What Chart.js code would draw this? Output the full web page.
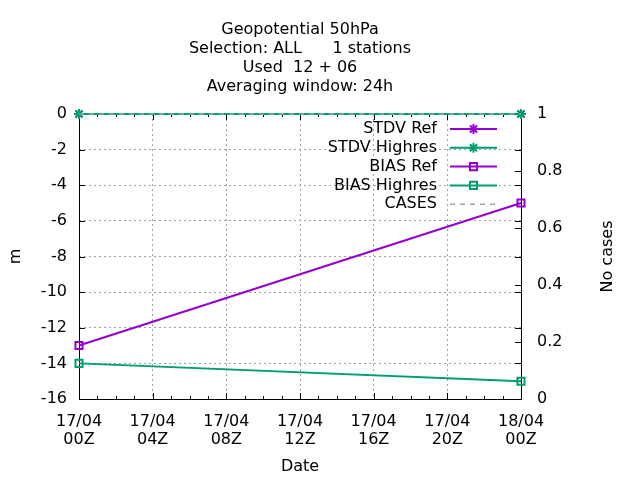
<!DOCTYPE html>
<html>
<head>
<meta charset="utf-8">
<script src="https://cdn.jsdelivr.net/npm/chart.js@4"></script>
<style>
  html, body { margin: 0; padding: 0; background: #fff; }
  #wrap { width: 640px; height: 480px; }
</style>
</head>
<body>
<div id="wrap"><canvas id="chart" width="640" height="480"></canvas></div>
<script>
'use strict';

// data
const titleLines = ['Geopotential 50hPa', 'Selection: ALL      1 stations', 'Used  12 + 06', 'Averaging window: 24h'];
const hours = [0, 24];
const xTickValues = [0, 4, 8, 12, 16, 20, 24];
const xTickLabels = [
  ['17/04', '00Z'], ['17/04', '04Z'], ['17/04', '08Z'], ['17/04', '12Z'],
  ['17/04', '16Z'], ['17/04', '20Z'], ['18/04', '00Z'],
];
const seriesNames = ['STDV Ref', 'STDV Highres', 'BIAS Ref', 'BIAS Highres', 'CASES'];
const stdvRef = [0, 0];
const stdvHighres = [0, 0];
const biasRef = [-13, -5];
const biasHighres = [-14, -15];
const cases = [1, 1];

const purple = '#9400d3';
const green = '#009e73';
const grey = '#a0a0a0';
const FONT = 'DejaVu Sans';
const SIZE = 16;

const toPoints = (values) => values.map((v, i) => ({ x: hours[i], y: v }));

const lineSet = (label, values, color, pointStyle, order) => ({
  label,
  data: toPoints(values),
  borderColor: color,
  backgroundColor: 'rgba(0,0,0,0)',
  borderWidth: 2,
  pointStyle,
  pointRadius: 5,
  pointBorderWidth: 2,
  pointBorderColor: color,
  pointBackgroundColor: 'rgba(0,0,0,0)',
  yAxisID: 'y',
  clip: false,
  order,
});

const datasets = [
  lineSet(seriesNames[0], stdvRef, purple, 'star', 5),
  lineSet(seriesNames[1], stdvHighres, green, 'star', 4),
  lineSet(seriesNames[2], biasRef, purple, 'rect', 3),
  lineSet(seriesNames[3], biasHighres, green, 'rect', 2),
  {
    label: seriesNames[4],
    data: toPoints(cases),
    borderColor: grey,
    borderWidth: 1.5,
    borderDash: [5, 5],
    pointRadius: 0,
    yAxisID: 'y1',
    clip: false,
    order: 1,
  },
];

// frame + inward tick marks, gnuplot style (under the data)
const framePlugin = {
  id: 'frame',
  beforeDatasetsDraw(chart) {
    const { ctx, chartArea: a, scales } = chart;
    ctx.save();
    ctx.strokeStyle = '#000';
    ctx.lineWidth = 1;
    ctx.beginPath();
    for (let h = 0; h <= 24; h++) {
      const x = Math.round(scales.x.getPixelForValue(h)) + 0.5;
      const len = h % 4 === 0 ? 6 : 3;
      ctx.moveTo(x, a.bottom); ctx.lineTo(x, a.bottom - len);
      ctx.moveTo(x, a.top); ctx.lineTo(x, a.top + len);
    }
    scales.y.ticks.forEach((t) => {
      const y = Math.round(scales.y.getPixelForValue(t.value)) + 0.5;
      ctx.moveTo(a.left, y); ctx.lineTo(a.left + 6, y);
      ctx.moveTo(a.right, y); ctx.lineTo(a.right - 6, y);
    });
    scales.y1.ticks.forEach((t) => {
      const y = Math.round(scales.y1.getPixelForValue(t.value)) + 0.5;
      ctx.moveTo(a.right, y); ctx.lineTo(a.right - 6, y);
    });
    ctx.stroke();
    ctx.strokeRect(Math.round(a.left) + 0.5, Math.round(a.top) + 0.5,
      Math.round(a.right - a.left), Math.round(a.bottom - a.top));
    ctx.restore();
  },
};

// key in the upper right corner of the plot, and the right axis title read upwards
const keyPlugin = {
  id: 'key',
  afterDraw(chart) {
    const { ctx, chartArea: a } = chart;
    const textRight = a.right - 84;
    const sampleLeft = a.right - 71;
    const sampleRight = a.right - 24;
    const mid = (sampleLeft + sampleRight) / 2;
    ctx.save();
    ctx.font = `${SIZE}px "${FONT}"`;
    ctx.textAlign = 'right';
    ctx.textBaseline = 'middle';
    chart.data.datasets.forEach((ds, i) => {
      const y = a.top + 15 + i * 18.8;
      ctx.fillStyle = '#000';
      ctx.fillText(ds.label, textRight, y);
      ctx.strokeStyle = ds.borderColor;
      ctx.lineWidth = ds.borderWidth;
      ctx.setLineDash(ds.borderDash || []);
      ctx.beginPath();
      ctx.moveTo(sampleLeft, y);
      ctx.lineTo(sampleRight, y);
      ctx.stroke();
      ctx.setLineDash([]);
      if (ds.pointRadius) {
        ctx.fillStyle = 'rgba(0,0,0,0)';
        ctx.lineWidth = ds.pointBorderWidth;
        Chart.helpers.drawPoint(ctx, {
          pointStyle: ds.pointStyle,
          rotation: 0,
          radius: ds.pointRadius,
          borderWidth: ds.pointBorderWidth,
        }, mid, y);
      }
    });

    ctx.translate(608, (a.top + a.bottom) / 2);
    ctx.rotate(-Math.PI / 2);
    ctx.textAlign = 'center';
    ctx.fillStyle = '#000';
    ctx.fillText('No cases', 0, 0);
    ctx.restore();
  },
};

Chart.defaults.font.family = FONT;
Chart.defaults.font.size = SIZE;
Chart.defaults.color = '#000';

new Chart(document.getElementById('chart'), {
  type: 'line',
  data: { datasets },
  options: {
    responsive: false,
    animation: false,
    layout: { padding: 0 },
    plugins: {
      legend: { display: false },
      tooltip: { enabled: false },
      title: {
        display: true,
        fullSize: false,
        text: titleLines,
        color: '#000',
        font: { family: FONT, size: SIZE, weight: 'normal', lineHeight: 19 / SIZE },
        padding: { top: 20, bottom: 18 },
      },
    },
    scales: {
      x: {
        type: 'linear',
        min: 0,
        max: 24,
        afterBuildTicks: (scale) => {
          scale.ticks = xTickValues.map((v) => ({ value: v }));
        },
        afterFit: (scale) => { scale.height = 81; },
        ticks: {
          maxRotation: 0,
          autoSkip: false,
          padding: 14,
          font: { size: SIZE, lineHeight: 18 / SIZE },
          callback: (value) => xTickLabels[xTickValues.indexOf(value)],
        },
        grid: {
          drawTicks: false,
          lineWidth: 1,
          color: (c) => (c.index === 0 || c.index === xTickValues.length - 1 ? 'rgba(0,0,0,0)' : grey),
        },
        border: { display: false, dash: [2, 3] },
        title: { display: true, text: 'Date', padding: { top: 0, bottom: 4 } },
      },
      y: {
        position: 'left',
        min: -16,
        max: 0,
        afterFit: (scale) => { scale.width = 79; },
        ticks: { stepSize: 2, padding: 12 },
        grid: {
          drawTicks: false,
          lineWidth: 1,
          color: (c) => (c.tick.value === -16 || c.tick.value === 0 ? 'rgba(0,0,0,0)' : grey),
        },
        border: { display: false, dash: [2, 3] },
        title: { display: true, text: 'm', padding: { top: 6, bottom: 0 } },
      },
      y1: {
        position: 'right',
        min: 0,
        max: 1,
        afterFit: (scale) => { scale.width = 119; },
        ticks: {
          stepSize: 0.2,
          padding: 16,
          callback: (value) => Number(value.toFixed(1)).toString(),
        },
        grid: { display: false, drawTicks: false },
        border: { display: false },
        title: { display: false },
      },
    },
  },
  plugins: [framePlugin, keyPlugin],
});
</script>
</body>
</html>
